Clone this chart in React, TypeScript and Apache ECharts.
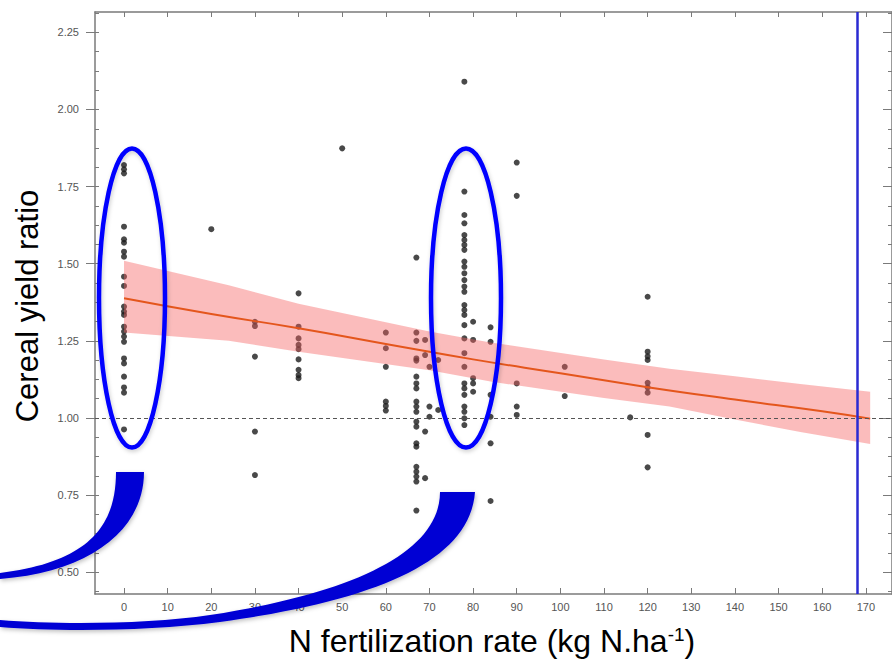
import React, { useEffect, useRef } from "react";
import * as echarts from "echarts";

// ---- Data ----
const ratioAt0 = [1.82, 1.806, 1.793, 1.62, 1.579, 1.568, 1.539, 1.523, 1.458, 1.428, 1.361, 1.345, 1.334, 1.296, 1.28, 1.264, 1.247, 1.193, 1.177, 1.134, 1.099, 1.082, 0.963];
const ratioAt20 = [1.612];
const ratioAt30 = [1.312, 1.298, 1.199, 0.956, 0.815];
const ratioAt40 = [1.404, 1.296, 1.258, 1.237, 1.223, 1.19, 1.156, 1.139, 1.129];
const ratioAt50 = [1.874];
const ratioAt60 = [1.277, 1.226, 1.166, 1.053, 1.039, 1.024];
const ratioAt67 = [1.52, 1.277, 1.25, 1.193, 1.186, 1.134, 1.112, 1.096, 1.053, 1.037, 1.02, 0.988, 0.972, 0.918, 0.907, 0.842, 0.826, 0.81, 0.794, 0.7];
const ratioAt69 = [1.253, 1.204, 0.956, 0.805];
const ratioAt70 = [1.166, 1.037, 1.004];
const ratioAt72 = [1.188, 1.026];
const ratioAt78 = [2.09, 1.734, 1.658, 1.631, 1.593, 1.577, 1.561, 1.545, 1.507, 1.49, 1.469, 1.447, 1.426, 1.409, 1.366, 1.35, 1.334, 1.301, 1.258, 1.21, 1.166, 1.112, 1.096, 1.075, 1.037, 1.02, 0.999, 0.977];
const ratioAt80 = [1.312, 1.253, 1.129, 1.112, 1.085];
const ratioAt84 = [1.294, 1.247, 1.075, 1.004, 0.918, 0.731];
const ratioAt90 = [1.828, 1.72, 1.112, 1.037, 1.01];
const ratioAt101 = [1.166, 1.071];
const ratioAt116 = [1.002];
const ratioAt120 = [1.393, 1.215, 1.2, 1.188, 1.114, 1.099, 1.082, 0.945, 0.84];

const nRates = [0, 20, 30, 40, 50, 60, 67, 69, 70, 72, 78, 80, 84, 90, 101, 116, 120];
const ratioGroups = [ratioAt0, ratioAt20, ratioAt30, ratioAt40, ratioAt50, ratioAt60, ratioAt67, ratioAt69, ratioAt70, ratioAt72, ratioAt78, ratioAt80, ratioAt84, ratioAt90, ratioAt101, ratioAt116, ratioAt120];

const fitRate = [0, 20, 40, 60, 80, 100, 120, 140, 160, 171];
const fitRatio = [1.388, 1.337, 1.291, 1.24, 1.19, 1.145, 1.1, 1.06, 1.022, 0.998];

const bandRate = [0, 24, 40, 70, 84, 110, 125, 140, 155, 171];
const bandUpper = [1.51, 1.43, 1.37, 1.28, 1.245, 1.19, 1.16, 1.135, 1.11, 1.085];
const bandLower = [1.277, 1.25, 1.215, 1.155, 1.118, 1.065, 1.037, 0.995, 0.955, 0.916];

const referenceRatio = 1.0;
const thresholdRate = 168;

const xTicks = [0, 10, 20, 30, 40, 50, 60, 70, 80, 90, 100, 110, 120, 130, 140, 150, 160, 170];
const yTicks = [0.5, 0.75, 1.0, 1.25, 1.5, 1.75, 2.0, 2.25];

const X_MIN = -6.65;
const X_MAX = 176;
const Y_MIN = 0.4295;
const Y_MAX = 2.316;

const yMinor: number[] = [];
for (let i = 0; i < yTicks.length; i++) {
  for (let k = -1; k <= 3; k++) {
    const v = +(yTicks[i] + k * 0.0625).toFixed(4);
    if (v >= Y_MIN && v <= Y_MAX && !yMinor.includes(v)) yMinor.push(v);
  }
}

// ---- Annotation shapes ----
const WEDGE_A =
  "M116,472 L144,472 C144,530 90,572 0,579 L0,573 C90,562 116,525 116,472 Z";
const WEDGE_B =
  "M440,492 L475,492 C470,560 380,600 220,622 C150,631 60,632 0,627 L0,620 C60,625 150,624 210,615 C360,592 440,550 440,492 Z";
echarts.graphic.registerShape("wedgeA", echarts.graphic.extendPath(WEDGE_A, {}));
echarts.graphic.registerShape("wedgeB", echarts.graphic.extendPath(WEDGE_B, {}));

const FONT = '"Liberation Sans", Arial, sans-serif';

export default function App() {
  const ref = useRef<HTMLDivElement>(null);

  useEffect(() => {
    if (!ref.current) return;
    const chart = echarts.init(ref.current, undefined, { renderer: "svg" });

    const points: number[][] = [];
    nRates.forEach((r, i) => ratioGroups[i].forEach((v) => points.push([r, v])));

    const axisColor = "#7a7a7a";
    const baseX = {
      type: "value",
      min: X_MIN,
      max: X_MAX,
      splitLine: { show: false },
      axisLine: { show: true, onZero: false, lineStyle: { color: axisColor, width: 1.5 } },
    };
    const baseY = {
      type: "value",
      min: Y_MIN,
      max: Y_MAX,
      splitLine: { show: false },
      axisLine: { show: true, onZero: false, lineStyle: { color: axisColor, width: 1.5 } },
    };

    const option: any = {
      animation: false,
      backgroundColor: "#ffffff",
      grid: { left: 95, top: 12, right: 0, bottom: 67, containLabel: false },
      xAxis: [
        {
          ...baseX,
          position: "bottom",
          axisTick: { show: true, inside: true, length: 6, customValues: xTicks, lineStyle: { color: axisColor } },
          axisLabel: {
            show: true,
            customValues: xTicks,
            margin: 7,
            color: "#555",
            fontSize: 11,
            fontFamily: FONT,
          },
        },
        {
          ...baseX,
          position: "top",
          axisTick: { show: true, inside: true, length: 5, customValues: xTicks, lineStyle: { color: axisColor } },
          axisLabel: { show: false },
        },
      ],
      yAxis: [
        {
          ...baseY,
          position: "left",
          axisTick: { show: true, inside: false, length: 9, customValues: yTicks, lineStyle: { color: axisColor } },
          axisLabel: {
            show: true,
            customValues: yTicks,
            margin: 16,
            color: "#555",
            fontSize: 11,
            fontFamily: FONT,
            formatter: (v: number) => v.toFixed(2),
          },
        },
        {
          ...baseY,
          position: "left",
          axisLine: { show: false, onZero: false },
          axisTick: { show: true, inside: true, length: 4, customValues: yMinor, lineStyle: { color: axisColor } },
          axisLabel: { show: false },
        },
        {
          ...baseY,
          position: "right",
          axisTick: { show: true, inside: true, length: 9, customValues: yTicks, lineStyle: { color: axisColor } },
          axisLabel: { show: false },
        },
        {
          ...baseY,
          position: "right",
          axisLine: { show: false, onZero: false },
          axisTick: { show: true, inside: true, length: 4, customValues: yMinor, lineStyle: { color: axisColor } },
          axisLabel: { show: false },
        },
      ],
      series: [
        {
          type: "scatter",
          xAxisIndex: 0,
          yAxisIndex: 0,
          data: points,
          symbolSize: 6,
          itemStyle: { color: "#1c1c1c" },
          z: 2,
          markLine: {
            silent: true,
            symbol: "none",
            label: { show: false },
            lineStyle: { color: "#555", type: [4, 3], width: 1 },
            data: [{ yAxis: referenceRatio }],
          },
        },
        {
          type: "custom",
          xAxisIndex: 0,
          yAxisIndex: 0,
          data: [[0, 1]],
          z: 3,
          renderItem: (params: any, api: any) => {
            const pts: number[][] = [];
            for (let i = 0; i < bandRate.length; i++) pts.push(api.coord([bandRate[i], bandUpper[i]]));
            for (let i = bandRate.length - 1; i >= 0; i--) pts.push(api.coord([bandRate[i], bandLower[i]]));
            return {
              type: "polygon",
              shape: { points: pts },
              style: { fill: "rgba(245,95,95,0.42)", stroke: "none" },
            };
          },
        },
        {
          type: "line",
          xAxisIndex: 0,
          yAxisIndex: 0,
          data: fitRate.map((r, i) => [r, fitRatio[i]]),
          showSymbol: false,
          smooth: true,
          lineStyle: { color: "#e4561c", width: 2 },
          z: 4,
          markLine: {
            silent: true,
            symbol: "none",
            label: { show: false },
            lineStyle: { color: "#2a2ad2", type: "solid", width: 2.5 },
            data: [{ xAxis: thresholdRate }],
            z: 6,
          },
        },
      ],
      graphic: [
        {
          type: "ellipse",
          shape: { cx: 132, cy: 298, rx: 33, ry: 149.5 },
          style: {
            fill: "none",
            stroke: "#0000ff",
            lineWidth: 4.5,
            shadowBlur: 4,
            shadowColor: "rgba(0,0,0,0.2)",
            shadowOffsetX: 1,
            shadowOffsetY: 2,
          },
          z: 100,
        },
        {
          type: "ellipse",
          shape: { cx: 466, cy: 298, rx: 35, ry: 149.5 },
          style: {
            fill: "none",
            stroke: "#0000ff",
            lineWidth: 4.5,
            shadowBlur: 4,
            shadowColor: "rgba(0,0,0,0.2)",
            shadowOffsetX: 1,
            shadowOffsetY: 2,
          },
          z: 100,
        },
        {
          type: "wedgeA",
          x: 0,
          y: 0,
          style: { fill: "#0000d4", shadowBlur: 4, shadowColor: "rgba(0,0,0,0.25)", shadowOffsetX: 1, shadowOffsetY: 2 },
          z: 100,
        },
        {
          type: "wedgeB",
          x: 0,
          y: 0,
          style: { fill: "#0000d4", shadowBlur: 4, shadowColor: "rgba(0,0,0,0.25)", shadowOffsetX: 1, shadowOffsetY: 2 },
          z: 100,
        },
        {
          type: "text",
          x: 27,
          y: 306,
          rotation: Math.PI / 2,
          style: {
            text: "Cereal yield ratio",
            font: `31px ${FONT}`,
            fill: "#000",
            align: "center",
            verticalAlign: "middle",
          },
          z: 100,
        },
        {
          type: "text",
          x: 492,
          y: 641,
          style: {
            text: "N fertilization rate (kg N.ha{sup|-1})",
            font: `32px ${FONT}`,
            fill: "#000",
            align: "center",
            verticalAlign: "middle",
            lineHeight: 32,
            rich: {
              sup: { fontSize: 19, fontFamily: FONT, fill: "#000", verticalAlign: "top", lineHeight: 19, padding: [0, 0, 11, 0] },
            },
          },
          z: 100,
        },
      ],
    };

    chart.setOption(option);
    return () => chart.dispose();
  }, []);

  return (
    <div
      ref={ref}
      style={{ position: "fixed", left: 0, top: 0, width: 892, height: 661, background: "#fff" }}
    />
  );
}
